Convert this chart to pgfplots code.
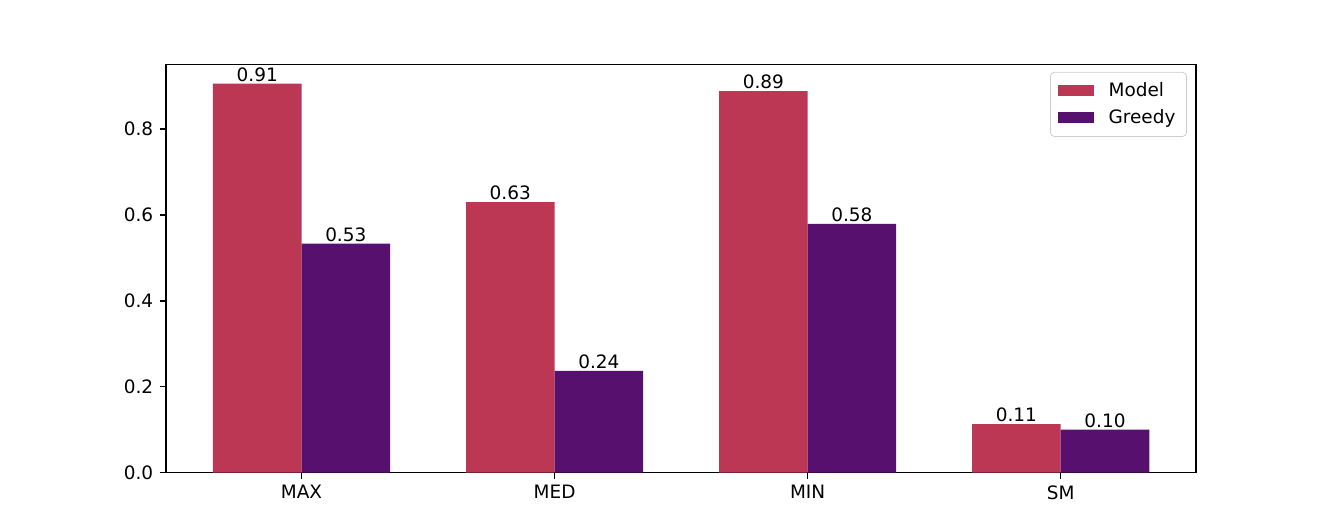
\documentclass[border=0pt]{standalone}
\usepackage{pgfplots}
\pgfplotsset{compat=1.18}
\usepackage{fontspec}
\setmainfont{DejaVu Sans}
\definecolor{cmodel}{HTML}{BC3754}
\definecolor{cgreedy}{HTML}{57106E}
\begin{document}
\begin{tikzpicture}
\path[use as bounding box] (-90pt,-32pt) rectangle (630pt,256pt);
\begin{axis}[
  at={(0,0)}, anchor=south west,
  scale only axis, width=558pt, height=221pt,
  xmin=-0.535, xmax=3.535, ymin=0, ymax=0.95,
  ybar, bar width=0.35,
  xtick={0,1,2,3}, xticklabels={MAX,MED,MIN,SM},
  ytick={0,0.2,0.4,0.6,0.8},
  yticklabel style={/pgf/number format/.cd,fixed,fixed zerofill,precision=1},
  /pgf/number format/assume math mode=true,
  tick align=outside, major tick length=3.5pt,
  tick style={line width=0.8pt, black},
  xtick pos=bottom, ytick pos=left,
  axis line style={line width=0.8pt},
  font=\fontsize{10pt}{12pt}\selectfont,
  ticklabel style={font=\fontsize{10pt}{12pt}\selectfont},
  nodes near coords,
  nodes near coords style={/pgf/number format/.cd,fixed,fixed zerofill,precision=2, /tikz/.cd, anchor=south, inner sep=1pt, font=\fontsize{10pt}{12pt}\selectfont, text=black},
  legend style={at={(1,1)}, anchor=north east, xshift=-5pt, yshift=-4pt,
    draw=black!20, rounded corners=2pt, fill=white, fill opacity=0.8, text opacity=1,
    font=\fontsize{10pt}{12pt}\selectfont, row sep=1.5pt, column sep=6pt, inner xsep=4pt, inner ysep=3.5pt},
  legend cell align=left,
]
\addplot[fill=cmodel, draw=none, bar shift=-0.175,
  legend image code/.code={\fill[cmodel, fill opacity=1, sharp corners] (0pt,-3pt) rectangle (19.5pt,3pt);}]
  coordinates {(0,0.906) (1,0.630) (2,0.888) (3,0.113)};
\addlegendentry{Model}
\addplot[fill=cgreedy, draw=none, bar shift=0.175,
  legend image code/.code={\fill[cgreedy, fill opacity=1, sharp corners] (0pt,-3pt) rectangle (19.5pt,3pt);}]
  coordinates {(0,0.533) (1,0.237) (2,0.579) (3,0.100)};
\addlegendentry{Greedy}
\end{axis}
\end{tikzpicture}
\end{document}
